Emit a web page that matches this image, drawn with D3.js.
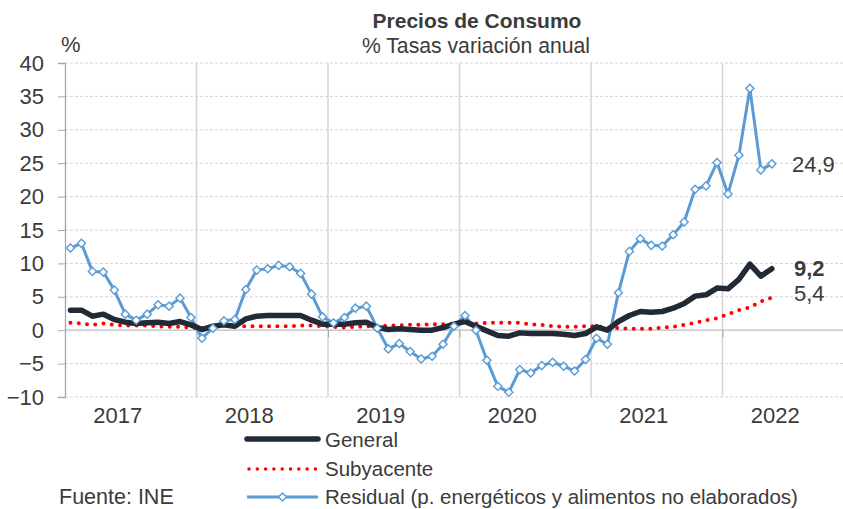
<!DOCTYPE html>
<html>
<head>
<meta charset="utf-8">
<script src="https://cdn.jsdelivr.net/npm/d3@7"></script>
<style>
  body { margin: 0; background: #fff; }
  svg { display: block; font-family: "Liberation Sans", Arial, sans-serif; }
</style>
</head>
<body>
<svg id="chart" width="843" height="509"></svg>
<script>
// Annual rates, monthly from Jan 2017 to May 2022
const years = ["2017", "2018", "2019", "2020", "2021", "2022"];
const yTicks = [-10, -5, 0, 5, 10, 15, 20, 25, 30, 35, 40];

const general = [
  3.0, 3.0, 2.1, 2.4, 1.6, 1.2, 1.0, 1.1, 1.2, 1.0, 1.3, 0.8,
  0.1, 0.6, 0.8, 0.6, 1.7, 2.1, 2.2, 2.2, 2.2, 2.2, 1.5, 0.9,
  0.9, 0.9, 1.1, 1.2, 0.4, 0.1, 0.2, 0.1, 0.0, 0.0, 0.4, 0.9,
  1.3, 0.6, -0.1, -0.8, -0.9, -0.4, -0.5, -0.5, -0.5, -0.6, -0.8, -0.5,
  0.5, 0.0, 1.3, 2.2, 2.8, 2.7, 2.8, 3.3, 4.0, 5.1, 5.3, 6.3,
  6.2, 7.6, 9.9, 8.1, 9.2
];
const subyacente = [
  1.1, 1.0, 0.8, 1.0, 0.8, 0.7, 0.7, 0.7, 0.6, 0.5, 0.5, 0.4,
  0.3, 0.6, 0.7, 0.6, 0.6, 0.6, 0.6, 0.6, 0.6, 0.7, 0.7, 0.6,
  0.5, 0.4, 0.5, 0.6, 0.6, 0.7, 0.7, 0.8, 0.8, 0.9, 0.9, 1.0,
  1.0, 1.0, 1.1, 1.1, 1.1, 1.1, 0.9, 0.8, 0.6, 0.5, 0.5, 0.6,
  0.6, 0.4, 0.3, 0.2, 0.2, 0.2, 0.4, 0.5, 0.8, 1.1, 1.5, 1.8,
  2.4, 3.0, 3.4, 4.3, 4.9
];
const residual = [
  12.3, 13.0, 8.8, 8.7, 6.0, 2.4, 1.5, 2.4, 3.8, 3.6, 4.8, 1.9,
  -1.2, 0.3, 1.4, 1.6, 6.1, 9.0, 9.2, 9.7, 9.5, 8.5, 5.4, 2.0,
  1.1, 1.9, 3.3, 3.6, 0.3, -2.8, -2.0, -3.2, -4.3, -3.9, -2.1, 0.6,
  2.2, 0.0, -4.5, -8.4, -9.3, -5.9, -6.4, -5.3, -4.8, -5.4, -6.1, -4.4,
  -1.2, -2.1, 5.6, 11.8, 13.7, 12.7, 12.6, 14.3, 16.2, 21.1, 21.6, 25.1,
  20.4, 26.2, 36.2, 24.0, 24.9
];
const lastLabels = ["24,9", "9,2", "5,4"];

const textColor = "#3b3b3b";
const gridColor = "#d4d4d4";

const svg = d3.select("#chart");
const width = 843;

// one slot per month, 6 full years
const x = d3.scaleLinear().domain([0, 72]).range([65, 854]);
const y = d3.scaleLinear().domain([-10, 40]).range([397, 63]);
const mx = i => x(i + 0.5);

// Titles
svg.append("text")
    .attr("x", 477).attr("y", 28)
    .attr("text-anchor", "middle")
    .attr("font-size", 21).attr("font-weight", "bold")
    .attr("fill", textColor)
    .text("Precios de Consumo");
svg.append("text")
    .attr("x", 476).attr("y", 53)
    .attr("text-anchor", "middle")
    .attr("font-size", 21.2)
    .attr("fill", textColor)
    .text("% Tasas variación anual");
svg.append("text")
    .attr("x", 61).attr("y", 52)
    .attr("font-size", 22)
    .attr("fill", textColor)
    .text("%");

// Horizontal grid
svg.append("g")
    .selectAll("line")
    .data(yTicks.filter(d => d !== 0))
    .enter()
    .append("line")
    .attr("x1", x(0)).attr("x2", width)
    .attr("y1", d => y(d)).attr("y2", d => y(d))
    .attr("stroke", gridColor)
    .attr("stroke-width", 1)
    .attr("stroke-dasharray", "3 2");

// Vertical year separators
svg.append("g")
    .selectAll("line")
    .data([12, 24, 36, 48, 60])
    .enter()
    .append("line")
    .attr("x1", d => x(d)).attr("x2", d => x(d))
    .attr("y1", y(40)).attr("y2", y(-10))
    .attr("stroke", gridColor)
    .attr("stroke-width", 1.5);

// X axis at zero with year ticks below
const xAxis = svg.append("g")
    .attr("transform", `translate(0,${y(0)})`)
    .call(d3.axisBottom(x).tickValues([12, 24, 36, 48, 60]).tickSize(7).tickFormat(""));
xAxis.select(".domain").attr("stroke", "#bdbdbd").attr("stroke-width", 1.3)
    .attr("d", `M${x(0)},0H${width}`);
xAxis.selectAll(".tick line").attr("stroke", "#a6a6a6");

// Y axis
const yAxis = svg.append("g")
    .attr("transform", `translate(${x(0)},0)`)
    .call(d3.axisLeft(y).tickValues(yTicks).tickSize(7).tickPadding(14).tickFormat(d3.format("d")));
yAxis.select(".domain").attr("stroke", "#a6a6a6").attr("stroke-width", 1.3);
yAxis.selectAll(".tick line").attr("stroke", "#a6a6a6");
yAxis.selectAll(".tick text")
    .attr("font-size", 22)
    .attr("font-family", "Liberation Sans, Arial, sans-serif")
    .attr("fill", textColor);

// Year labels
svg.append("g")
    .selectAll("text")
    .data(years)
    .enter()
    .append("text")
    .attr("x", (d, i) => x(i * 12 + 6) - 13)
    .attr("y", 423)
    .attr("text-anchor", "middle")
    .attr("font-size", 22)
    .attr("fill", textColor)
    .text(d => d);

// Lines
const line = d3.line().x((d, i) => mx(i)).y(d => y(d));

svg.append("path")
    .datum(subyacente)
    .attr("d", line)
    .attr("fill", "none")
    .attr("stroke", "#ff0000")
    .attr("stroke-width", 4)
    .attr("stroke-linecap", "round")
    .attr("stroke-dasharray", "0 8.3");

svg.append("path")
    .datum(residual)
    .attr("d", line)
    .attr("fill", "none")
    .attr("stroke", "#5b9bd5")
    .attr("stroke-width", 3)
    .attr("stroke-linejoin", "round");

svg.append("path")
    .datum(general)
    .attr("d", line)
    .attr("fill", "none")
    .attr("stroke", "#222a36")
    .attr("stroke-width", 5.5)
    .attr("stroke-linejoin", "round")
    .attr("stroke-linecap", "round");

const diamond = d3.symbol().type(d3.symbolDiamond2).size(42);
svg.append("g")
    .selectAll("path")
    .data(residual)
    .enter()
    .append("path")
    .attr("d", diamond)
    .attr("transform", (d, i) => `translate(${mx(i)},${y(d)})`)
    .attr("fill", "#fff")
    .attr("stroke", "#5b9bd5")
    .attr("stroke-width", 1.4);

// End labels
const n = residual.length - 1;
svg.append("text")
    .attr("x", 792).attr("y", y(residual[n]) + 8)
    .attr("font-size", 22).attr("fill", textColor)
    .text(lastLabels[0]);
svg.append("text")
    .attr("x", 794).attr("y", y(general[n]) + 7)
    .attr("font-size", 22).attr("font-weight", "bold").attr("fill", textColor)
    .text(lastLabels[1]);
svg.append("text")
    .attr("x", 794).attr("y", y(subyacente[n]) + 4)
    .attr("font-size", 22).attr("fill", textColor)
    .text(lastLabels[2]);

// Legend
const legend = svg.append("g");
const lx1 = 247, lx2 = 318, ltx = 325;

legend.append("line")
    .attr("x1", lx1).attr("x2", lx2).attr("y1", 439).attr("y2", 439)
    .attr("stroke", "#222a36").attr("stroke-width", 5.5).attr("stroke-linecap", "round");
legend.append("text").attr("x", ltx).attr("y", 447)
    .attr("font-size", 20.5).attr("fill", textColor).text("General");

legend.append("line")
    .attr("x1", lx1 + 2).attr("x2", lx2).attr("y1", 469).attr("y2", 469)
    .attr("stroke", "#ff0000").attr("stroke-width", 3.5)
    .attr("stroke-linecap", "round").attr("stroke-dasharray", "0 8.3");
legend.append("text").attr("x", ltx).attr("y", 476)
    .attr("font-size", 20.5).attr("fill", textColor).text("Subyacente");

legend.append("line")
    .attr("x1", lx1).attr("x2", lx2).attr("y1", 497).attr("y2", 497)
    .attr("stroke", "#5b9bd5").attr("stroke-width", 3);
legend.append("path")
    .attr("d", diamond)
    .attr("transform", `translate(${(lx1 + lx2) / 2},497)`)
    .attr("fill", "#fff").attr("stroke", "#5b9bd5").attr("stroke-width", 1.4);
legend.append("text").attr("x", ltx).attr("y", 504)
    .attr("font-size", 20.5).attr("fill", textColor)
    .text("Residual (p. energéticos y alimentos no elaborados)");

svg.append("text")
    .attr("x", 59).attr("y", 504)
    .attr("font-size", 21.5).attr("fill", textColor)
    .text("Fuente: INE");
</script>
</body>
</html>
